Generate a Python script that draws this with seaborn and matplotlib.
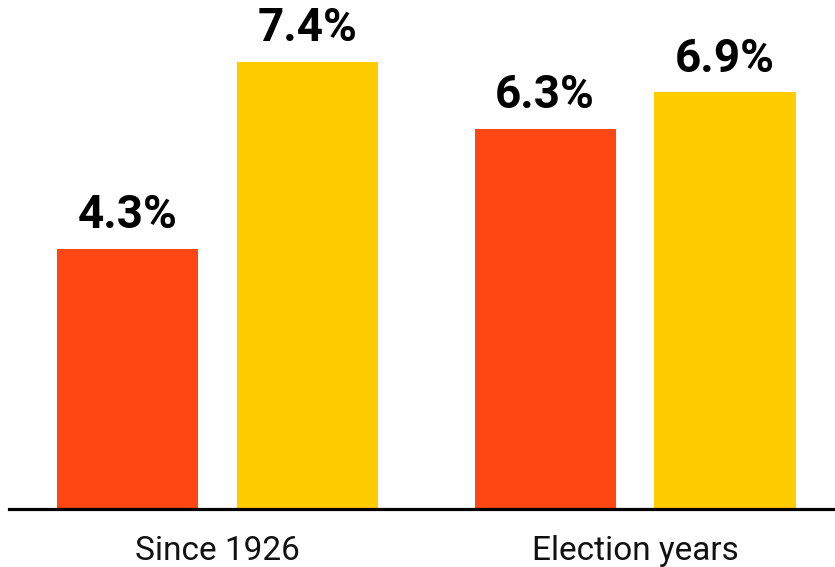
import matplotlib
matplotlib.use("Agg")
import matplotlib.pyplot as plt
import seaborn as sns
import pandas as pd

categories = ["Since 1926", "Election years"]
series = ["A", "B"]
values_a = [4.3, 6.3]
values_b = [7.4, 6.9]
labels_a = ["4.3%", "6.3%"]
labels_b = ["7.4%", "6.9%"]

df = pd.DataFrame({
    "category": categories * 2,
    "series": [series[0]] * 2 + [series[1]] * 2,
    "value": values_a + values_b,
    "label": labels_a + labels_b,
})

sns.set_style("white")
plt.rcParams["font.family"] = ["Roboto", "DejaVu Sans"]

base_y = 508.5
fig = plt.figure(figsize=(8.35, 5.67), dpi=100)
ax = fig.add_axes([9 / 835, (567 - base_y) / 567, 1 - 9 / 835, base_y / 567])

sns.barplot(data=df, x="category", y="value", hue="series",
            palette=["#FF4713", "#FFCC00"], width=0.862, gap=0.216,
            legend=False, ax=ax, saturation=1, edgecolor="none")

for container, labs in zip(ax.containers, [labels_a, labels_b]):
    for bar, lab in zip(container, labs):
        ax.annotate(lab, (bar.get_x() + bar.get_width() / 2, bar.get_height()),
                    xytext=(0, 15), textcoords="offset points",
                    ha="center", va="baseline", fontsize=33, fontweight="bold",
                    color="black")

ax.set_xlim(-0.4994, 1.479)
ax.set_ylim(0, base_y / 60.3)
ax.set_xlabel("")
ax.set_ylabel("")
ax.set_yticks([])
for s in ["top", "right", "left"]:
    ax.spines[s].set_visible(False)
ax.spines["bottom"].set_linewidth(2.3)
ax.spines["bottom"].set_color("black")
ax.tick_params(axis="x", length=0, pad=19, labelsize=24, colors="#111111")
ax.patch.set_alpha(0)

fig.savefig("out.png", dpi=100)
